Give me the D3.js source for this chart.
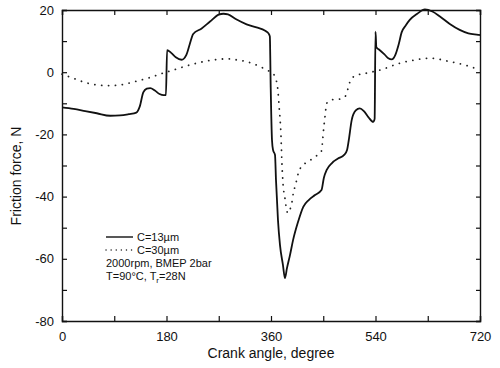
<!DOCTYPE html>
<html>
<head>
<meta charset="utf-8">
<script src="https://cdn.jsdelivr.net/npm/d3@7"></script>
<style>
body { margin: 0; background: #fff; }
svg { display: block; }
.tick text { font-family: "Liberation Sans Narrow", "Liberation Sans", Arial, sans-serif; font-size: 13px; fill: #111; }
.title { font-family: "Liberation Sans", Arial, sans-serif; font-size: 14px; fill: #111; }
.legend { font-family: "Liberation Sans", Arial, sans-serif; font-size: 11px; fill: #111; }
</style>
</head>
<body>
<div id="chart"></div>
<script>
// C = 13 um (solid)
var angle13 = [0, 20, 40, 60, 83, 100, 115, 128, 134, 140, 146, 152, 160, 168, 175, 179,
  181, 188, 196, 206, 214, 220, 226, 240, 255, 270, 278, 286, 300, 318, 335, 350, 356, 358,
  359.5, 361.7, 363.5, 366.9, 368.6, 372, 375.5, 380.6, 384, 387.5, 392.7, 398, 406.5, 415.6,
  425, 435.8, 447, 451, 456, 465, 476, 486, 491, 494, 499, 506, 513, 520, 528, 536, 538.5,
  540, 541.5, 546, 555, 562, 568, 574, 580, 585, 592, 599, 612, 625, 638, 651, 668, 685, 700, 717, 720];
var force13 = [-11.3, -11.8, -12.5, -13.2, -14.0, -13.9, -13.5, -13.0, -11, -6.5, -5.3, -5.1, -5.9, -7.0, -7.4, -7.4,
  7.1, 6.2, 4.8, 4.0, 5.5, 9.0, 12.3, 14.0, 16.3, 18.5, 18.8, 18.6, 17.0, 15.4, 14.4, 13.3, 12.4, 11.5,
  -5, -21.8, -25, -26.6, -34.7, -47.5, -55.6, -62, -66.2, -63, -58.8, -54, -48.2, -43.3,
  -41.1, -39.5, -37.9, -34, -31.4, -29.2, -27.7, -26.6, -25, -21.8, -15.4, -12.3, -11.6, -12.5, -14.5, -16, -15,
  13, 8.0, 7.3, 5.8, 4.5, 4.1, 5.5, 9, 12.8, 15, 16.8, 18.8, 20.2, 19.5, 17.9, 15.5, 13.6, 12.5, 12.0, 11.9];

// C = 30 um (dotted)
var angle30 = [0, 20, 40, 60, 83, 100, 126, 150, 172, 192, 212, 232, 260, 284, 300, 318, 341, 353, 362,
  367, 369, 372, 374, 377, 379, 380.6, 384, 387, 389, 392, 396.7, 398.4, 401.3, 404.2, 407, 413,
  424, 435.8, 447, 448.5, 450, 453, 456, 464.5, 479, 490, 493, 496, 504.6, 527.5, 548, 582, 610, 634, 668, 690, 703, 720];
var force30 = [-0.6, -2.0, -3.3, -4.1, -4.3, -4.1, -3.0, -1.8, -0.4, 0.7, 1.9, 2.9, 3.9, 4.3, 4.0, 3.4, 1.8, 0.7, -0.3,
  -1.4, -2.6, -6, -11.1, -19.6, -29.8, -35.6, -40.5, -44.3, -45.3, -44.5, -41.1, -38.9, -36.8, -34.7, -32.5, -30.2,
  -28.8, -27.2, -25.3, -22.9, -19.6, -14.3, -10, -8.9, -8.6, -7.3, -4.9, -3.1, -1.2, -0.2, 0.7, 2.9, 4.0, 4.5, 3.4, 2.5, 1.8, 0.7];

var xTicks = [0, 180, 360, 540, 720];
var yTicks = [20, 0, -20, -40, -60, -80];
var legendLabels = ["C=13\u00b5m", "C=30\u00b5m"];

var width = 500, height = 368;
var margin = {left: 62, right: 20, top: 10, bottom: 47};

var svg = d3.select("#chart").append("svg")
  .attr("width", width)
  .attr("height", height);

var x = d3.scaleLinear().domain([0, 720]).range([margin.left, width - margin.right]);
var y = d3.scaleLinear().domain([-80, 20]).range([height - margin.bottom, margin.top]);

var minorX = d3.range(0, 721, 90);
var minorY = d3.range(-80, 21, 10);

// axes, ticks pointing inward
svg.append("g")
  .attr("transform", "translate(0," + y(-80) + ")")
  .call(d3.axisBottom(x).tickValues(minorX).tickSize(-5).tickPadding(11)
    .tickFormat(function(d) { return xTicks.indexOf(d) >= 0 ? d : ""; }));
svg.append("g")
  .attr("transform", "translate(" + x(0) + ",0)")
  .call(d3.axisLeft(y).tickValues(minorY).tickSize(-5).tickPadding(8)
    .tickFormat(function(d) { return yTicks.indexOf(d) >= 0 ? d : ""; }));
svg.append("g")
  .attr("transform", "translate(0," + y(20) + ")")
  .call(d3.axisTop(x).tickValues(minorX).tickSize(-5).tickFormat(""));
svg.append("g")
  .attr("transform", "translate(" + x(720) + ",0)")
  .call(d3.axisRight(y).tickValues(minorY).tickSize(-4).tickFormat(""));

svg.selectAll(".domain").attr("stroke", "#111").attr("stroke-width", 1.4);
svg.selectAll(".tick line").attr("stroke", "#111").attr("stroke-width", 1.2);
svg.selectAll(".tick text").each(function() {
  var t = d3.select(this);
  if (t.text() !== "" && +t.text() < 0) t.text("-" + Math.abs(+t.text()));
});

var line = d3.line()
  .x(function(d) { return x(d[0]); })
  .y(function(d) { return y(d[1]); })
  .curve(d3.curveMonotoneX);

svg.append("path")
  .datum(d3.zip(angle13, force13))
  .attr("fill", "none")
  .attr("stroke", "#111")
  .attr("stroke-width", 1.8)
  .attr("d", line);

svg.append("path")
  .datum(d3.zip(angle30, force30))
  .attr("fill", "none")
  .attr("stroke", "#222")
  .attr("stroke-width", 1.8)
  .attr("stroke-linecap", "round")
  .attr("stroke-dasharray", "0.1,6.8")
  .attr("d", line);

// legend
var leg = svg.append("g").attr("class", "legend");
leg.append("line").attr("x1", 106).attr("x2", 133).attr("y1", 237).attr("y2", 237)
  .attr("stroke", "#111").attr("stroke-width", 1.4);
leg.append("line").attr("x1", 106).attr("x2", 133).attr("y1", 250).attr("y2", 250)
  .attr("stroke", "#222").attr("stroke-width", 1.4).attr("stroke-linecap", "round")
  .attr("stroke-dasharray", "0.1,5");
leg.append("text").attr("x", 137).attr("y", 241).text(legendLabels[0]);
leg.append("text").attr("x", 137).attr("y", 254).text(legendLabels[1]);
leg.append("text").attr("x", 106).attr("y", 267).text("2000rpm, BMEP 2bar");
var t4 = leg.append("text").attr("x", 106).attr("y", 280);
t4.append("tspan").text("T=90\u00b0C, T");
t4.append("tspan").attr("dy", 3).attr("font-size", "8px").text("r");
t4.append("tspan").attr("dy", -3).text("=28N");

// axis titles
svg.append("text").attr("class", "title")
  .attr("x", x(360)).attr("y", 358)
  .attr("text-anchor", "middle")
  .text("Crank angle, degree");
svg.append("text").attr("class", "title")
  .attr("transform", "translate(21," + 176 + ") rotate(-90)")
  .attr("text-anchor", "middle")
  .text("Friction force, N");
</script>
</body>
</html>
